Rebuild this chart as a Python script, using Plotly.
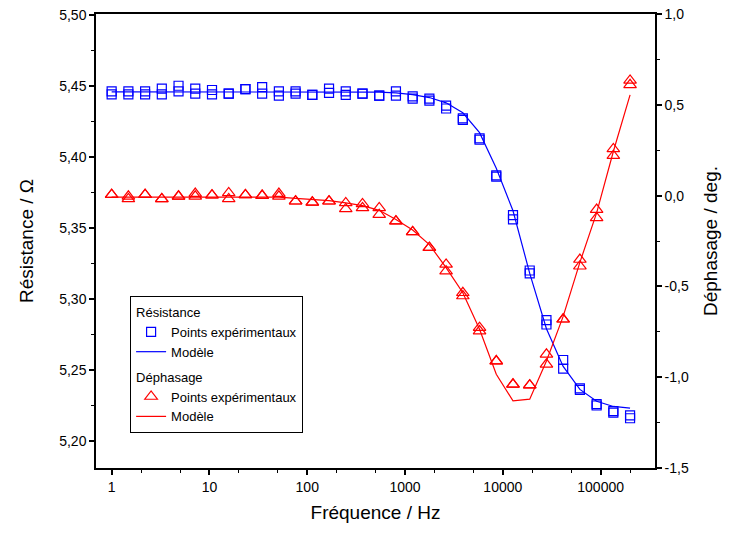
import plotly.graph_objects as go

# Frequencies (Hz), 32 points log-spaced from 1 Hz to 200 kHz
freq = [1, 1.483, 2.198, 3.258, 4.831, 7.161, 10.62, 15.74, 23.33, 34.59,
        51.29, 76.03, 112.7, 167.1, 247.7, 367.3, 544.5, 807.2, 1197, 1774,
        2630, 3899, 5781, 8570, 12706, 18836, 27925, 41400, 61376, 90991,
        134896, 200000]

# Resistance (Ohm) — two measurement runs
res_run1 = [5.446, 5.446, 5.446, 5.448, 5.450, 5.448, 5.447, 5.4445, 5.4476, 5.449,
            5.446, 5.446, 5.4436, 5.448, 5.446, 5.4445, 5.443, 5.446, 5.4425, 5.441,
            5.436, 5.427, 5.413, 5.387, 5.359, 5.320, 5.285, 5.257, 5.237, 5.226,
            5.221, 5.218]
res_run2 = [5.444, 5.444, 5.444, 5.444, 5.446, 5.4445, 5.444, 5.4445, 5.4476, 5.4445,
            5.443, 5.4445, 5.4436, 5.445, 5.4436, 5.4445, 5.443, 5.443, 5.441, 5.4395,
            5.434, 5.426, 5.412, 5.386, 5.356, 5.318, 5.282, 5.251, 5.236, 5.225,
            5.220, 5.216]
res_model = [5.4457, 5.4457, 5.4457, 5.4457, 5.4457, 5.4457, 5.4457, 5.4457, 5.4457, 5.4457,
             5.4457, 5.4457, 5.4457, 5.4456, 5.4456, 5.4456, 5.4455, 5.445, 5.4438, 5.4417,
             5.438, 5.431, 5.417, 5.392, 5.362, 5.318, 5.279, 5.2525, 5.2363, 5.228,
             5.2243, 5.2232]

# Phase (deg) — two measurement runs
phase_run1 = [0.005, -0.004, 0.005, -0.018, -0.004, 0.011, 0.002, 0.015, 0.004, 0.000,
              0.011, -0.031, -0.037, -0.031, -0.040, -0.046, -0.068, -0.141, -0.200, -0.287,
              -0.379, -0.535, -0.727, -0.911, -1.039, -1.044, -0.874, -0.681, -0.352, -0.077,
              0.257, 0.634]
phase_run2 = [0.005, -0.018, 0.005, -0.018, -0.004, -0.004, 0.002, -0.018, 0.004, 0.000,
              -0.004, -0.031, -0.037, -0.031, -0.073, -0.068, -0.105, -0.141, -0.200, -0.287,
              -0.416, -0.553, -0.746, -0.911, -1.039, -1.044, -0.929, -0.681, -0.389, -0.123,
              0.220, 0.610]
phase_model = [-0.008, -0.008, -0.008, -0.008, -0.008, -0.008, -0.008, -0.008, -0.008, -0.008,
               -0.008, -0.015, -0.020, -0.028, -0.040, -0.055, -0.081, -0.132, -0.190, -0.270,
               -0.397, -0.535, -0.736, -0.984, -1.130, -1.121, -0.911, -0.665, -0.368, -0.095,
               0.243, 0.555]

x_tickvals = [1, 10, 100, 1000, 10000, 100000]
x_ticktext = ["1", "10", "100", "1000", "10000", "100000"]
y_tickvals = [5.20, 5.25, 5.30, 5.35, 5.40, 5.45, 5.50]
y_ticktext = ["5,20", "5,25", "5,30", "5,35", "5,40", "5,45", "5,50"]
y2_tickvals = [-1.5, -1.0, -0.5, 0.0, 0.5, 1.0]
y2_ticktext = ["-1,5", "-1,0", "-0,5", "0,0", "0,5", "1,0"]

BLUE = "rgb(0,0,255)"
RED = "rgb(255,0,0)"
FONT = "Liberation Sans, Arial, sans-serif"

fig = go.Figure()
fig.add_trace(go.Scatter(
    x=freq + freq, y=res_run1 + res_run2, mode="markers",
    name="Points expérimentaux", legendgroup="R",
    legendgrouptitle=dict(text="Résistance"),
    marker=dict(symbol="square-open", size=9, color=BLUE, line=dict(width=1.2, color=BLUE)),
))
fig.add_trace(go.Scatter(
    x=freq, y=res_model, mode="lines", name="Modèle", legendgroup="R",
    line=dict(color=BLUE, width=1.2),
))
fig.add_trace(go.Scatter(
    x=freq + freq, y=phase_run1 + phase_run2, mode="markers", yaxis="y2",
    name="Points expérimentaux", legendgroup="D",
    legendgrouptitle=dict(text="Déphasage"),
    marker=dict(symbol="triangle-up-open", size=11, color=RED, line=dict(width=1.2, color=RED)),
))
fig.add_trace(go.Scatter(
    x=freq, y=phase_model, mode="lines", yaxis="y2", name="Modèle", legendgroup="D",
    line=dict(color=RED, width=1.2),
))

axis_common = dict(showline=True, linecolor="black", linewidth=1.5, showgrid=False,
                   zeroline=False, ticks="outside", ticklen=5, tickwidth=1.5,
                   tickcolor="black", automargin=False,
                   tickfont=dict(size=14, color="black", family=FONT))

fig.update_layout(
    width=730, height=539,
    margin=dict(l=96, r=75, t=14, b=71),
    paper_bgcolor="white", plot_bgcolor="white",
    font=dict(family=FONT, color="black"),
    xaxis=dict(type="log", range=[-0.16, 5.556], mirror=True,
               tickvals=x_tickvals, ticktext=x_ticktext,
               minor=dict(ticks="outside", ticklen=3, tickwidth=1, tickcolor="black",
                          showgrid=False),
               title=dict(text="Fréquence / Hz", font=dict(size=19), standoff=12),
               **axis_common),
    yaxis=dict(range=[5.181, 5.5005], tickvals=y_tickvals, ticktext=y_ticktext,
               minor=dict(ticks="outside", ticklen=3, tickwidth=1, tickcolor="black",
                          tickvals=[5.225, 5.275, 5.325, 5.375, 5.425, 5.475],
                          showgrid=False),
               title=dict(text="Résistance / Ω", font=dict(size=19), standoff=21),
               **axis_common),
    yaxis2=dict(range=[-1.5, 1.0], overlaying="y", side="right",
                tickvals=y2_tickvals, ticktext=y2_ticktext,
                minor=dict(ticks="outside", ticklen=3, tickwidth=1, tickcolor="black",
                           dtick=0.25, showgrid=False),
                title=dict(text="Déphasage / deg.", font=dict(size=19), standoff=16),
                **axis_common),
    showlegend=True,
    legend=dict(x=0.061, y=0.379, xanchor="left", yanchor="top",
                bgcolor="white", bordercolor="black", borderwidth=1,
                font=dict(size=13, family=FONT, color="black"),
                grouptitlefont=dict(size=13, family=FONT, color="black"),
                tracegroupgap=5, traceorder="grouped", itemwidth=30),
)

# Remove the browser's default 8px body margin so the figure fills the window exactly.
fig.write_html("out.html", config={"displayModeBar": False},
               post_script="document.body.style.margin='0';")
